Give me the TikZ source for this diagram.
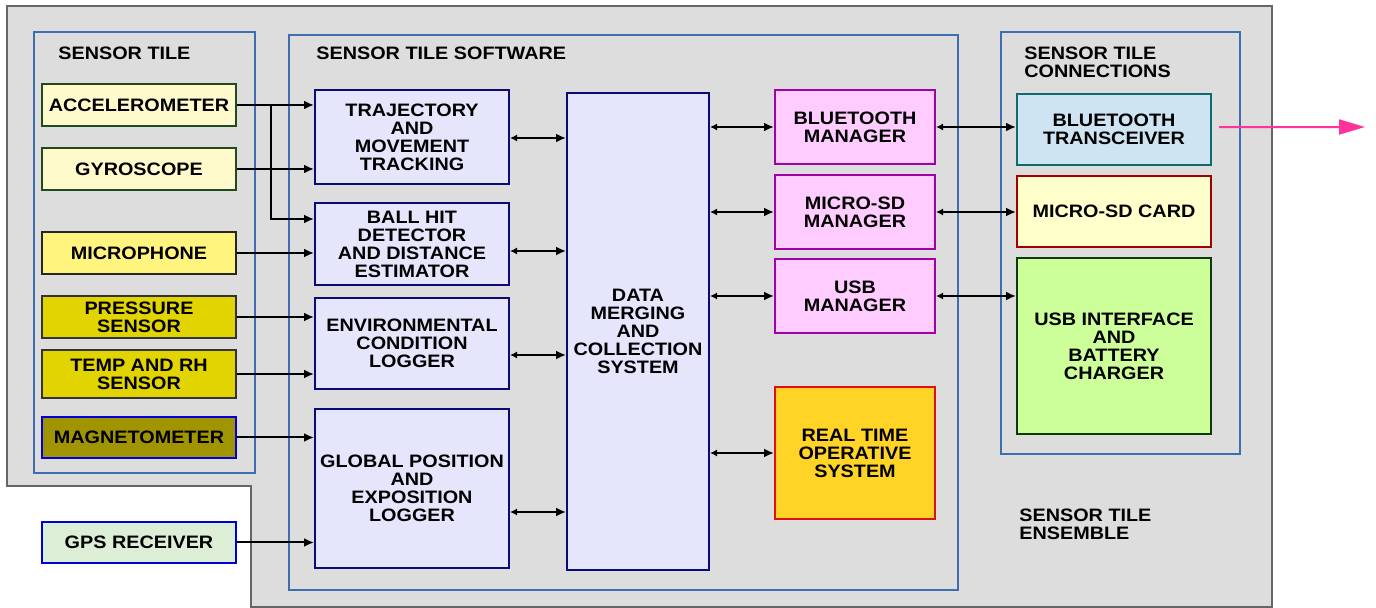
\documentclass[tikz,border=0pt]{standalone}
\usepackage{fontspec}
\setmainfont{Liberation Sans}[FakeStretch=1.1]
\usetikzlibrary{arrows,arrows.meta,positioning,calc}

\definecolor{tilebg}{HTML}{DDDDDD}
\definecolor{frameblue}{HTML}{3E6DB0}
\definecolor{accfill}{HTML}{FFFACC}
\definecolor{accline}{HTML}{1E4A1E}
\definecolor{micfill}{HTML}{FFF47E}
\definecolor{presfill}{HTML}{E2D400}
\definecolor{magfill}{HTML}{A09400}
\definecolor{gpsfill}{HTML}{DDEED6}
\definecolor{swfill}{HTML}{E5E5FC}
\definecolor{swline}{HTML}{0A0A78}
\definecolor{mgrfill}{HTML}{FFCCFF}
\definecolor{mgrline}{HTML}{A000A8}
\definecolor{rtosfill}{HTML}{FFD426}
\definecolor{rtosline}{HTML}{DD1111}
\definecolor{btfill}{HTML}{CFE4F2}
\definecolor{btline}{HTML}{106C6C}
\definecolor{sdfill}{HTML}{FFFFCC}
\definecolor{sdline}{HTML}{A00000}
\definecolor{usbfill}{HTML}{CCFF99}
\definecolor{usbline}{HTML}{0C3A0C}
\definecolor{airpink}{HTML}{FF3399}

\begin{document}
\begin{tikzpicture}[x=0.5pt,y=-0.5pt,
  every node/.style={font=\fontsize{9}{9}\selectfont\bfseries,align=center},
  blk/.style={draw,line width=1pt,inner sep=0pt},
  sens/.style={blk,minimum width=97pt,minimum height=21pt},
  soft/.style={blk,fill=swfill,draw=swline,minimum width=97pt},
  mgr/.style={blk,fill=mgrfill,draw=mgrline,minimum width=80pt,minimum height=37pt},
  conn/.style={blk,minimum width=97pt},
  frame/.style={draw=frameblue,line width=1pt},
  title/.style={anchor=west,align=left,inner sep=0pt},
  sig/.style={-{Latex[length=5pt,width=4.5pt]},line width=1pt},
  bus/.style={{Latex[length=3.5pt,width=3.5pt]}-{Latex[length=5pt,width=4.5pt]},line width=1pt}]
\useasboundingbox (0,0) rectangle (1376,608);

% ensemble and frames
\draw[fill=tilebg,draw=black!60,line width=0.6pt]
(7,6) -| (1272,607) -| (251,486) -| cycle;
\draw[frame] (34,32) rectangle (255,473);
\draw[frame] (289,35) rectangle (958,590);
\draw[frame] (1001,32) rectangle (1240,454);

\node[title] (ttile) at (58,53) {SENSOR TILE};
\node[title] (tsoft) at (316,53) {SENSOR TILE SOFTWARE};
\node[title] (tconn) at (1024,62) {SENSOR TILE\\CONNECTIONS};
\node[title] (tens) at (1019,524) {SENSOR TILE\\ENSEMBLE};

% sensors
\node[sens,fill=accfill,draw=accline] (acc) at (139,105) {ACCELEROMETER};
\node[sens,fill=accfill,draw=accline] (gyro) at (139,169) {GYROSCOPE};
\node[sens,fill=micfill,draw=black!85] (mic) at (139,253) {MICROPHONE};
\node[sens,fill=presfill,draw=black!80] (pres) at (139,317) {PRESSURE\\SENSOR};
\node[sens,fill=presfill,draw=black!80,minimum height=24pt] (temp) at (139,374) {TEMP AND RH\\SENSOR};
\node[sens,fill=magfill,draw=blue!85!black,minimum height=20.5pt] (mag) at (139,437.5) {MAGNETOMETER};
\node[sens,fill=gpsfill,draw=blue!85!black,minimum height=20.5pt] (gps) at (139,542.5) {GPS RECEIVER};

% software
\node[soft,minimum height=47pt] (traj) at (412,137) {TRAJECTORY\\AND\\MOVEMENT\\TRACKING};
\node[soft,minimum height=41pt] (ball) at (412,244) {BALL HIT\\DETECTOR\\AND DISTANCE\\ESTIMATOR};
\node[soft,minimum height=45.5pt] (env) at (412,343.5) {ENVIRONMENTAL\\CONDITION\\LOGGER};
\node[soft,minimum height=79.5pt] (gpl) at (412,488.5) {GLOBAL POSITION\\AND\\EXPOSITION\\LOGGER};
\node[soft,minimum width=71pt,minimum height=238.5pt] (data) at (638,331.5) {DATA\\MERGING\\AND\\COLLECTION\\SYSTEM};

\node[mgr] (btm) at (855,127) {BLUETOOTH\\MANAGER};
\node[mgr] (sdm) at (855,212) {MICRO-SD\\MANAGER};
\node[mgr] (usbm) at (855,296) {USB\\MANAGER};
\node[blk,fill=rtosfill,draw=rtosline,minimum width=80pt,minimum height=66pt] (rtos) at (855,453) {REAL TIME\\OPERATIVE\\SYSTEM};

% connections
\node[conn,fill=btfill,draw=btline,minimum height=35.5pt] (btt) at (1114,129.5) {BLUETOOTH\\TRANSCEIVER};
\node[conn,fill=sdfill,draw=sdline,minimum height=35.5pt] (sdc) at (1114,211.5) {MICRO-SD CARD};
\node[conn,fill=usbfill,draw=usbline,minimum height=88pt] (usbi) at (1114,346) {USB INTERFACE\\AND\\BATTERY\\CHARGER};

% sensor lines
\coordinate (split) at (271,105);
\draw[sig] (acc.east) -- (acc.east -| traj.west);
\draw[sig] (split) |- ([yshift=12.5pt]ball.west);
\draw[sig] (gyro.east) -- (gyro.east -| traj.west);
\draw[sig] (mic.east) -- (mic.east -| ball.west);
\draw[sig] (pres.east) -- (pres.east -| env.west);
\draw[sig] (temp.east) -- (temp.east -| env.west);
\draw[sig] (mag.east) -- (mag.east -| gpl.west);
\draw[sig] (gps.east) -- (gps.east -| gpl.west);

% buses
\foreach \n/\y in {traj/138,ball/251,env/355,gpl/512}
  \draw[bus] (\n.east |- 0,\y) -- (data.west |- 0,\y);
\foreach \n in {btm,sdm,usbm,rtos}
  \draw[bus] (\n.west -| data.east) -- (\n.west);
\foreach \n/\m in {btm/btt,sdm/sdc,usbm/usbi}
  \draw[bus] (\n.east) -- (\n.east -| \m.west);

\coordinate (air) at (1365,127);
\draw[-{Triangle[length=13pt,width=7.5pt]},airpink,line width=1pt]
  ([xshift=3.5pt,yshift=1.2pt]btt.east) -- (air);
\end{tikzpicture}
\end{document}
